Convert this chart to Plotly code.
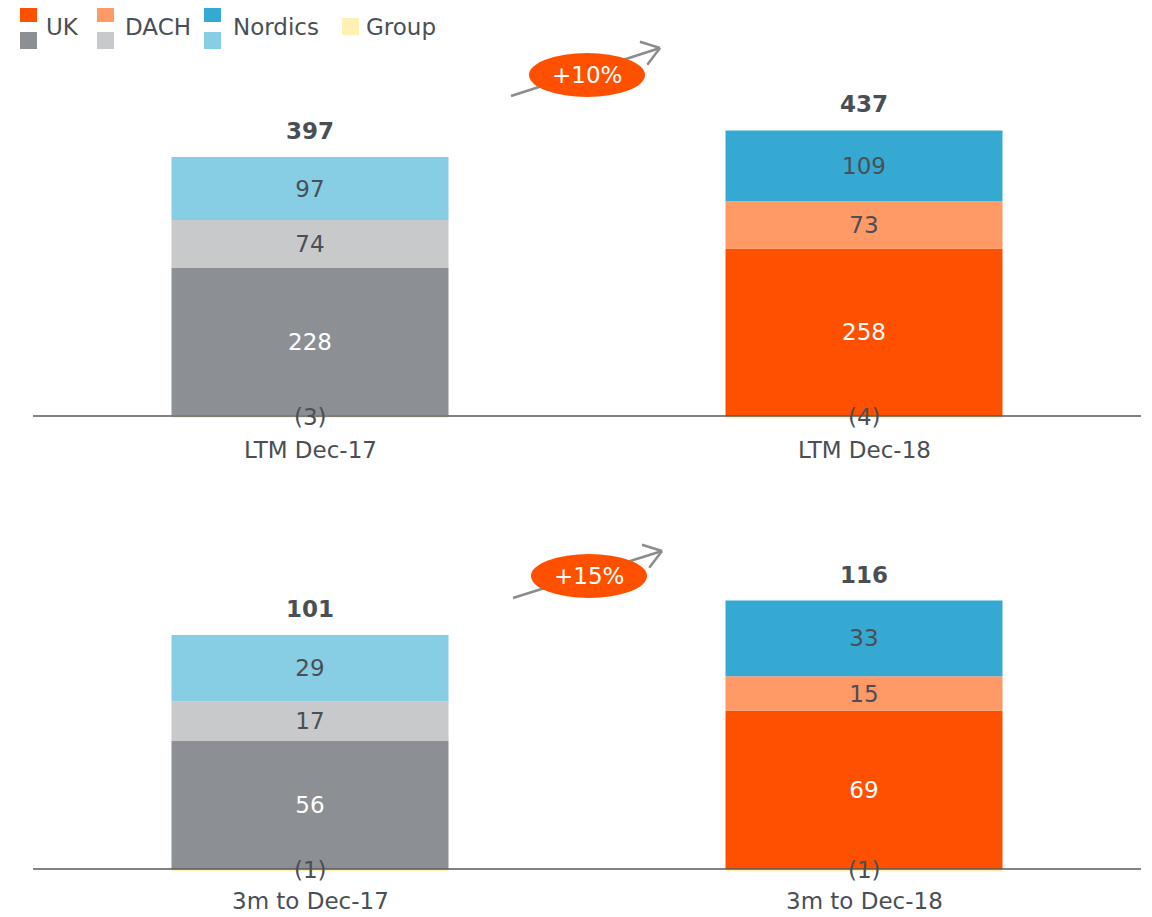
import math
import plotly.graph_objects as go

# ---------------- data ----------------
cats_top = ["LTM Dec-17", "LTM Dec-18"]
cats_bot = ["3m to Dec-17", "3m to Dec-18"]

uk_top = [228, 258]
dach_top = [74, 73]
nordics_top = [97, 109]
group_top = [-3, -4]
total_top = [397, 437]
growth_top = "+10%"

uk_bot = [56, 69]
dach_bot = [17, 15]
nordics_bot = [29, 33]
group_bot = [-1, -1]
total_bot = [101, 116]
growth_bot = "+15%"

series_names = ["UK", "DACH", "Nordics", "Group"]

# ---------------- style ----------------
FONT = "DejaVu Sans"
FS = 23
TXT = "#4A4F55"
ARROW = "#8C8C8C"
C_UK = ["#8C9094", "#FF5000"]
C_DACH = ["#C8C9CB", "#FF9966"]
C_NOR = ["#87CDE3", "#36A9D3"]
C_GRP = ["#FFF0B4", "#FFF0B4"]

OFF = 8  # page body margin
W, H = 1152 - OFF, 917 - OFF
ML, MR = 33 - OFF, 11
PW = W - ML - MR


def px(x):  # page pixel -> paper x
    return (x - OFF - ML) / PW


def py(y):  # page pixel -> paper y
    return 1 - (y - OFF) / H


fig = go.Figure()


def add_panel(cats, uk, dach, nor, grp, xa, ya):
    for vals, cols, tcol in [(uk, C_UK, "white"), (dach, C_DACH, TXT), (nor, C_NOR, TXT)]:
        fig.add_trace(go.Bar(
            x=cats, y=vals, marker=dict(color=cols, line=dict(width=0)),
            text=[str(v) for v in vals], textposition="inside",
            insidetextanchor="middle", textangle=0,
            textfont=dict(family=FONT, size=FS, color=tcol),
            width=0.5, xaxis=xa, yaxis=ya, showlegend=False, hoverinfo="skip"))
    fig.add_trace(go.Bar(
        x=cats, y=grp, marker=dict(color=C_GRP, line=dict(width=0)),
        width=0.5, xaxis=xa, yaxis=ya, showlegend=False, hoverinfo="skip"))


add_panel(cats_top, uk_top, dach_top, nordics_top, group_top, "x", "y")
add_panel(cats_bot, uk_bot, dach_bot, nordics_bot, group_bot, "x2", "y2")

annotations = []
shapes = []


def panel_annots(cats, uk, dach, nor, grp, tot, xr, yr, lab_shift):
    for i, c in enumerate(cats):
        top = uk[i] + dach[i] + nor[i]
        annotations.append(dict(x=c, y=top, xref=xr, yref=yr, text="<b>%d</b>" % tot[i],
                                showarrow=False, yanchor="bottom", xanchor="center", yshift=11,
                                font=dict(family=FONT, size=FS, color=TXT)))
        annotations.append(dict(x=c, y=grp[i] / 2, xref=xr, yref=yr, text="(%d)" % abs(grp[i]),
                                showarrow=False, yanchor="middle", xanchor="center",
                                font=dict(family=FONT, size=FS, color=TXT)))
        annotations.append(dict(x=c, y=0, xref=xr, yref=yr, text=c,
                                showarrow=False, yanchor="top", xanchor="center", yshift=lab_shift,
                                font=dict(family=FONT, size=FS, color=TXT)))
    shapes.append(dict(type="line", xref="paper", yref=yr, x0=0, x1=1, y0=0, y1=0,
                       line=dict(color="#595959", width=1.5), layer="above"))


panel_annots(cats_top, uk_top, dach_top, nordics_top, group_top, total_top, "x", "y", -19)
panel_annots(cats_bot, uk_bot, dach_bot, nordics_bot, group_bot, total_bot, "x2", "y2", -17)


def growth_badge(x0, y0, x1, y1, cx, cy, text):
    shapes.append(dict(type="line", xref="paper", yref="paper",
                       x0=px(x0), y0=py(y0), x1=px(x1), y1=py(y1),
                       line=dict(color=ARROW, width=2.5), layer="above"))
    ang = math.atan2(y1 - y0, x1 - x0)
    L = 21
    for d in (math.radians(35), -math.radians(35)):
        a = ang + math.pi + d
        shapes.append(dict(type="line", xref="paper", yref="paper",
                           x0=px(x1), y0=py(y1),
                           x1=px(x1 + L * math.cos(a)), y1=py(y1 + L * math.sin(a)),
                           line=dict(color=ARROW, width=2.5), layer="above"))
    shapes.append(dict(type="circle", xref="paper", yref="paper",
                       x0=px(cx - 58), x1=px(cx + 58), y0=py(cy + 22), y1=py(cy - 22),
                       fillcolor="#FF5000", line=dict(width=0), layer="above"))
    annotations.append(dict(x=px(cx), y=py(cy), xref="paper", yref="paper", text=text,
                            showarrow=False, xanchor="center", yanchor="middle",
                            font=dict(family=FONT, size=FS, color="white")))


growth_badge(511, 96, 660, 48, 587, 75, growth_top)
growth_badge(513, 598, 662, 551, 589, 576, growth_bot)

# legend
leg_x = [20, 97, 204]
leg_tx = [44, 123, 231]
top_cols = [C_UK[1], C_DACH[1], C_NOR[1]]
bot_cols = [C_UK[0], C_DACH[0], C_NOR[0]]
for i in range(3):
    for (ya, yb), col in [((5, 22), top_cols[i]), ((32, 49), bot_cols[i])]:
        shapes.append(dict(type="rect", xref="paper", yref="paper",
                           x0=px(leg_x[i]), x1=px(leg_x[i] + 17), y0=py(yb), y1=py(ya),
                           fillcolor=col, line=dict(width=0)))
    annotations.append(dict(x=px(leg_tx[i]), y=py(27), xref="paper", yref="paper",
                            text=series_names[i], showarrow=False, xanchor="left", yanchor="middle",
                            font=dict(family=FONT, size=FS, color=TXT)))
shapes.append(dict(type="rect", xref="paper", yref="paper",
                   x0=px(342), x1=px(359), y0=py(35), y1=py(18),
                   fillcolor=C_GRP[0], line=dict(width=0)))
annotations.append(dict(x=px(364), y=py(27), xref="paper", yref="paper",
                        text=series_names[3], showarrow=False, xanchor="left", yanchor="middle",
                        font=dict(family=FONT, size=FS, color=TXT)))

ax_common = dict(showgrid=False, zeroline=False, showticklabels=False, showline=False,
                 ticks="", fixedrange=True)

fig.update_layout(
    width=W, height=H, barmode="relative",
    margin=dict(l=ML, r=MR, t=0, b=0),
    paper_bgcolor="white", plot_bgcolor="white",
    xaxis=dict(domain=[0, 1], anchor="y", type="category", range=[-0.5, 1.5], **ax_common),
    yaxis=dict(domain=[py(440), py(40)], anchor="x", range=[-37.0, 579.4], **ax_common),
    xaxis2=dict(domain=[0, 1], anchor="y2", type="category", range=[-0.5, 1.5], **ax_common),
    yaxis2=dict(domain=[py(900), py(500)], anchor="x2", range=[-13.51, 160.85], **ax_common),
    annotations=annotations, shapes=shapes,
    showlegend=False,
)

fig.write_html("out.html")
